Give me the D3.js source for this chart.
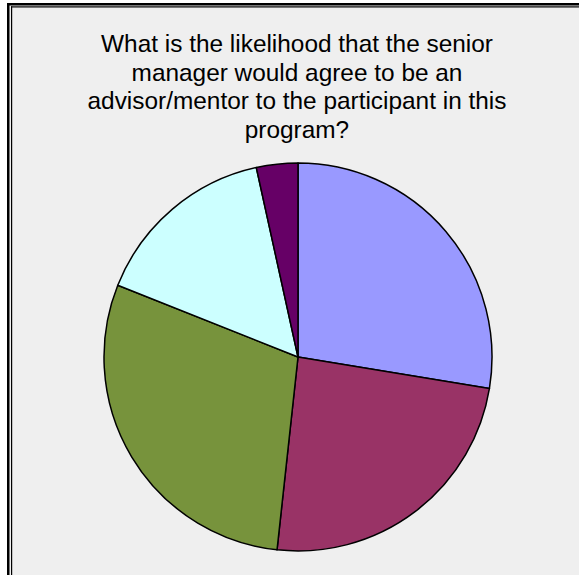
<!DOCTYPE html>
<html>
<head>
<meta charset="utf-8">
<script src="https://cdn.jsdelivr.net/npm/d3@7"></script>
<style>
  html, body { margin: 0; padding: 0; background: #ffffff; }
  svg { display: block; }
</style>
</head>
<body>
<svg id="chart" width="579" height="575"></svg>
<script>
const titleLines = [
  "What is the likelihood that the senior",
  "manager would agree to be an",
  "advisor/mentor to the participant in this",
  "program?"
];
const categories = ["A", "B", "C", "D", "E"];
const values = [16, 14, 17, 9, 2];
const colors = ["#9999FF", "#993366", "#77933C", "#CCFFFF", "#660066"];

const svg = d3.select("#chart");
const W = 579, H = 575;

// background panel
svg.append("rect").attr("x", 0).attr("y", 0).attr("width", W).attr("height", H).attr("fill", "#ffffff");
svg.append("rect").attr("x", 9).attr("y", 5).attr("width", W - 9).attr("height", H - 5).attr("fill", "#EFEFEF");
// frame lines (top and left, doubled)
svg.append("rect").attr("x", 7).attr("y", 3).attr("width", W - 7).attr("height", 2.5).attr("fill", "#000");
svg.append("rect").attr("x", 7).attr("y", 3).attr("width", 2.5).attr("height", H - 3).attr("fill", "#000");
svg.append("rect").attr("x", 11).attr("y", 6.3).attr("width", W - 11).attr("height", 1.2).attr("fill", "#000");
svg.append("rect").attr("x", 11).attr("y", 6.3).attr("width", 1.2).attr("height", H - 6.3).attr("fill", "#000");

// title
const title = svg.append("text")
  .attr("text-anchor", "middle")
  .attr("font-family", "Liberation Sans, Arial, sans-serif")
  .attr("font-size", 24.4)
  .attr("fill", "#000");
titleLines.forEach((t, i) => {
  title.append("tspan").attr("x", 297).attr("y", 52 + i * 28.5).text(t);
});

// pie
const cx = 298, cy = 357, r = 194;
const pie = d3.pie().sort(null).value(d => d.v);
const arc = d3.arc().innerRadius(0).outerRadius(r);
const color = d3.scaleOrdinal().domain(categories).range(colors);
const data = categories.map((c, i) => ({ c, v: values[i] }));

svg.append("g").attr("transform", `translate(${cx},${cy})`)
  .selectAll("path")
  .data(pie(data))
  .join("path")
  .attr("d", arc)
  .attr("fill", d => color(d.data.c))
  .attr("stroke", "#000")
  .attr("stroke-width", 1.5)
  .attr("stroke-linejoin", "round");
</script>
</body>
</html>
